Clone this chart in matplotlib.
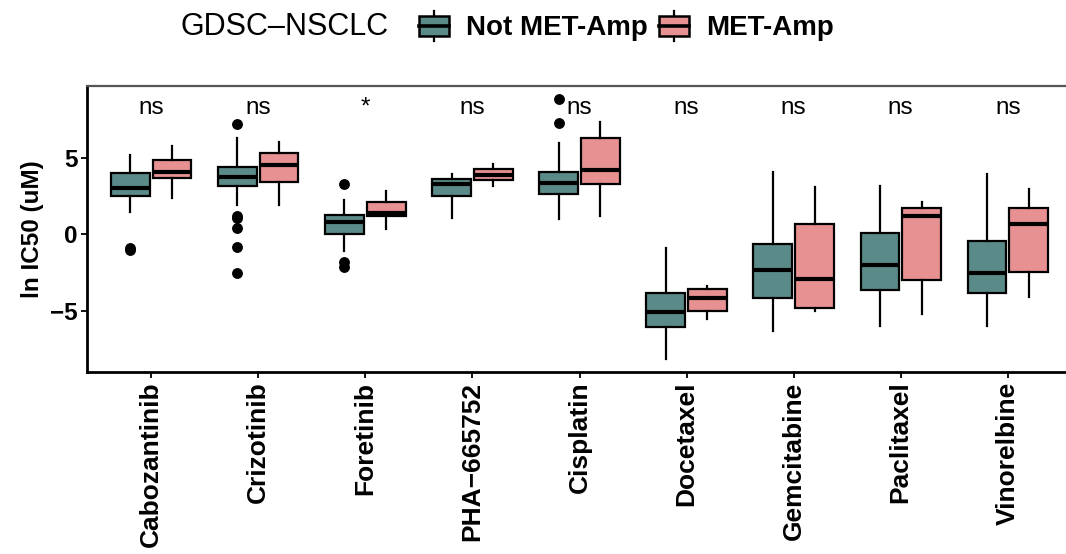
import matplotlib
matplotlib.use("Agg")
import matplotlib.pyplot as plt
from matplotlib.patches import Rectangle
from matplotlib.lines import Line2D
from matplotlib.legend_handler import HandlerBase
import numpy as np

plt.rcParams['font.family'] = ['Liberation Sans', 'DejaVu Sans']

drugs = ["Cabozantinib", "Crizotinib", "Foretinib", "PHA\u2212665752", "Cisplatin",
         "Docetaxel", "Gemcitabine", "Paclitaxel", "Vinorelbine"]
signif = ["ns", "ns", "*", "ns", "ns", "ns", "ns", "ns", "ns"]

# Not MET-Amp box statistics
not_whislo = [1.48, 1.92, -1.09, 1.05, 0.98, -8.17, -6.29, -5.96, -5.96]
not_q1     = [2.51, 3.17, 0.00, 2.53, 2.62, -6.07, -4.19, -3.65, -3.82]
not_med    = [3.06, 3.78, 0.83, 3.28, 3.38, -5.07, -2.34, -2.03, -2.55]
not_q3     = [4.04, 4.43, 1.24, 3.62, 4.08, -3.84, -0.66, 0.11, -0.44]
not_whishi = [5.20, 6.27, 2.23, 3.93, 5.96, -0.92, 4.10, 3.17, 3.97]
not_fliers = [[-0.92, -1.02], [7.20, 1.20, 1.09, 0.44, -0.83, -2.55], [3.28, -1.81, -2.12],
              [], [8.84, 7.25], [], [], [], []]

# MET-Amp box statistics
met_whislo = [2.36, 1.92, 0.33, 3.19, 1.20, -5.52, -4.98, -5.24, -4.10]
met_q1     = [3.71, 3.43, 1.18, 3.54, 3.30, -4.98, -4.80, -3.01, -2.45]
met_med    = [4.10, 4.52, 1.38, 3.89, 4.19, -4.15, -2.95, 1.20, 0.66]
met_q3     = [4.85, 5.35, 2.14, 4.28, 6.27, -3.56, 0.66, 1.70, 1.70]
met_whishi = [5.79, 6.05, 2.84, 4.59, 7.36, -3.38, 3.12, 2.14, 2.95]
met_fliers = [[], [], [], [], [], [], [], [], []]

group_names = ["Not MET-Amp", "MET-Amp"]
colors = ["#5B8B88", "#E79192"]

def make_stats(lo, q1, med, q3, hi, fl):
    return [dict(whislo=a, q1=b, med=c, q3=d, whishi=e, fliers=f)
            for a, b, c, d, e, f in zip(lo, q1, med, q3, hi, fl)]

stats_not = make_stats(not_whislo, not_q1, not_med, not_q3, not_whishi, not_fliers)
stats_met = make_stats(met_whislo, met_q1, met_med, met_q3, met_whishi, met_fliers)

fig = plt.figure(figsize=(10.66, 5.54), dpi=100)
ax = fig.add_axes([87 / 1066, 182 / 554, 985 / 1066, 286 / 554])

x = np.arange(len(drugs))
off = 0.195
bw = 0.36
lw = 1.6
for stats, sgn, col in [(stats_not, -1, colors[0]), (stats_met, 1, colors[1])]:
    ax.bxp(stats, positions=x + sgn * off, widths=bw, patch_artist=True,
           showcaps=False,
           boxprops=dict(facecolor=col, edgecolor="black", linewidth=lw),
           medianprops=dict(color="black", linewidth=3.0, solid_capstyle="butt"),
           whiskerprops=dict(color="black", linewidth=lw),
           flierprops=dict(marker="o", markerfacecolor="black", markeredgecolor="black",
                           markersize=6.8, linestyle="none"),
           manage_ticks=False)

for xi, s in zip(x, signif):
    ax.text(xi, 7.9, s, ha="center", va="baseline", fontsize=17.5)

ax.set_xlim(-0.6, len(drugs) - 0.4)
ax.set_ylim(-9.0, 9.7)
ax.set_xticks(x)
ax.set_xticklabels(drugs, rotation=90, fontsize=19, fontweight="bold", ha="center", va="top")
ax.set_yticks([-5, 0, 5])
ax.set_yticklabels(["\u22125", "0", "5"], fontsize=17.5, fontweight="bold")
ax.set_ylabel("ln IC50 (uM)", fontsize=17.5, fontweight="bold", labelpad=4)
ax.tick_params(axis="both", length=4, width=1.3, color="black", pad=3)
for sp in ["left", "bottom"]:
    ax.spines[sp].set_linewidth(2)
    ax.spines[sp].set_color("black")
ax.spines["top"].set_linewidth(1.6)
ax.spines["top"].set_color("#555555")
ax.spines["right"].set_visible(False)


class BoxHandler(HandlerBase):
    def create_artists(self, legend, orig_handle, xdescent, ydescent, width, height,
                       fontsize, trans):
        x0, y0 = -xdescent, -ydescent
        bh = height * 0.72
        by = y0 + (height - bh) / 2
        cx = x0 + width / 2
        wl = Line2D([cx, cx], [y0 - height * 0.05, y0 + height * 1.05], color="black",
                    linewidth=1.6, transform=trans)
        r = Rectangle((x0, by), width, bh, facecolor=orig_handle.get_facecolor(),
                      edgecolor="black", linewidth=1.8, transform=trans)
        m = Line2D([x0, x0 + width], [y0 + height / 2, y0 + height / 2], color="black",
                   linewidth=2.6, transform=trans)
        return [wl, r, m]


handles = [Rectangle((0, 0), 1, 1, facecolor=c) for c in colors]
fig.text(181 / 1066, 1 - 27 / 554, "GDSC\u2013NSCLC", fontsize=22, ha="left", va="center")
leg = fig.legend(handles, group_names, loc="center left", bbox_to_anchor=(419 / 1066, 1 - 27 / 554),
                 ncol=2, frameon=False, borderpad=0, borderaxespad=0,
                 handler_map={Rectangle: BoxHandler()}, handlelength=1.08, handleheight=1.1,
                 handletextpad=0.62, columnspacing=0.4,
                 prop=dict(size=20, weight="bold"))

fig.savefig("out.png", dpi=100)
